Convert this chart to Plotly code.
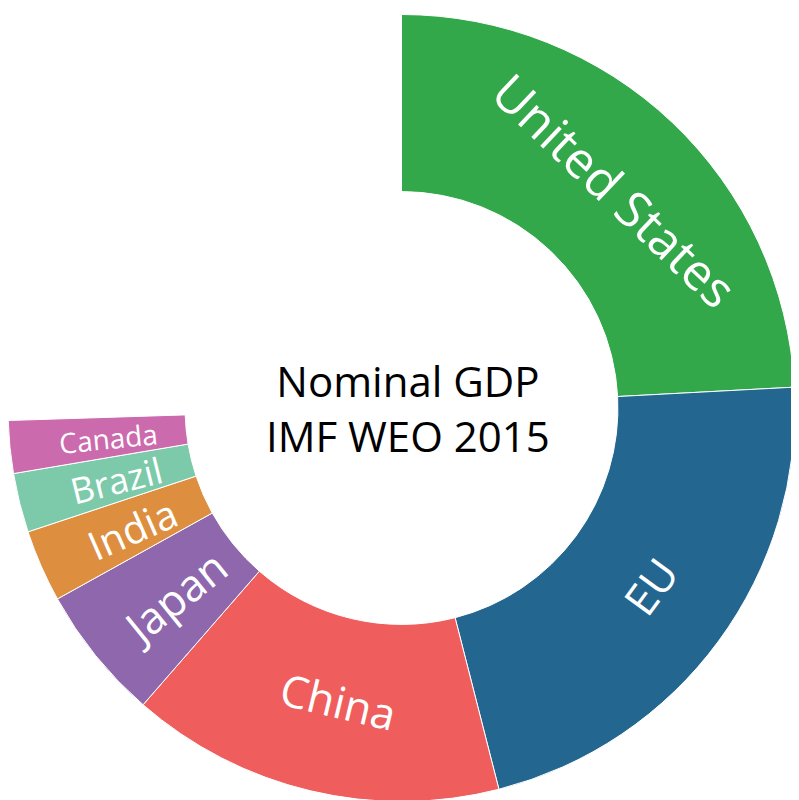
import math
import plotly.graph_objects as go

COUNTRIES = ["United States", "EU", "China", "Japan", "India", "Brazil", "Canada", ""]
GDP = [17.9, 16.2, 11.4, 4.1, 2.2, 1.8, 1.6, 18.9]  # last value is the blank gap
COLORS = ["#33a84a", "#236690", "#ef5d5d", "#8e67ad", "#dd8f3f", "#7ccaaa", "#cc6aae", "rgba(0,0,0,0)"]
FONT_SIZES = [50, 44, 44, 44, 40, 36, 28]
RADIAL = [False, False, False, True, True, True, True]

W, H = 799, 800
HOLE = 0.55
CX, CY, R = 400, 400, 388  # pixel centre and radius of the ring

fig = go.Figure(
    go.Pie(
        labels=COUNTRIES,
        values=GDP,
        sort=False,
        direction="clockwise",
        rotation=0,
        hole=HOLE,
        marker=dict(colors=COLORS, line=dict(color=["white"] * 7 + ["rgba(0,0,0,0)"], width=1)),
        textinfo="none",
        hoverinfo="skip",
        showlegend=False,
        domain=dict(x=[0, 0.985], y=[0, 1]),
    )
)

# labels placed at the middle of each slice
total = sum(GDP)
r_mid = (HOLE + 1) / 2 * R
start = 0.0
for name, v, fs, radial in zip(COUNTRIES, GDP, FONT_SIZES, RADIAL):
    mid = (start + v / 2) / total * 360
    start += v
    th = math.radians(mid)
    ang = mid - 90 if radial else mid
    while ang > 90:
        ang -= 180
    while ang < -90:
        ang += 180
    fig.add_annotation(
        x=(CX + r_mid * math.sin(th)) / W,
        y=(H - CY + r_mid * math.cos(th)) / H,
        xref="paper", yref="paper", xanchor="center", yanchor="middle",
        text=name, textangle=ang, showarrow=False,
        font=dict(family="Open Sans", size=fs, color="white"),
    )

fig.add_annotation(
    x=0.5, y=0.5, xref="paper", yref="paper", xanchor="center", yanchor="middle",
    text="Nominal GDP<br>IMF WEO 2015",
    showarrow=False,
    font=dict(family="Open Sans", size=42, color="black"),
)

fig.update_layout(
    width=W,
    height=H,
    margin=dict(l=0, r=0, t=0, b=0),
    paper_bgcolor="white",
)

fig.write_html("out.html")
